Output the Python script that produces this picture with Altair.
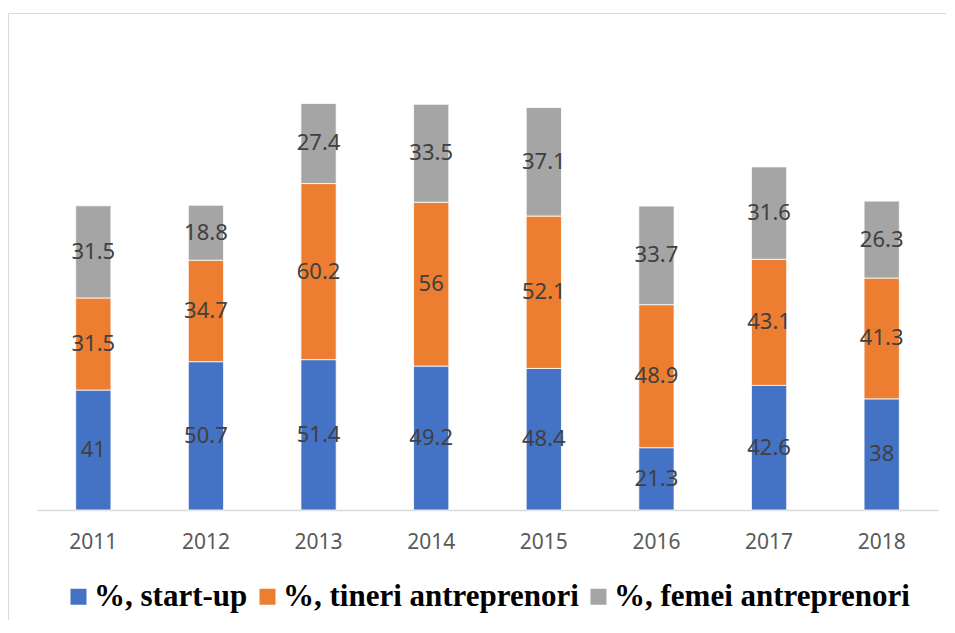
import altair as alt
import pandas as pd

years = ["2011", "2012", "2013", "2014", "2015", "2016", "2017", "2018"]
series = ["%, start-up", "%, tineri antreprenori", "%, femei antreprenori"]
startup = [41, 50.7, 51.4, 49.2, 48.4, 21.3, 42.6, 38]
tineri = [31.5, 34.7, 60.2, 56, 52.1, 48.9, 43.1, 41.3]
femei = [31.5, 18.8, 27.4, 33.5, 37.1, 33.7, 31.6, 26.3]
colors = ["#4472C4", "#ED7D31", "#A5A5A5"]

rows = []
for i, y in enumerate(years):
    for k, (s, vals) in enumerate(zip(series, [startup, tineri, femei])):
        rows.append({"year": y, "series": s, "value": vals[i], "ord": k})
df = pd.DataFrame(rows)

x_enc = alt.X(
    "year:N",
    sort=years,
    scale=alt.Scale(paddingInner=0.687, paddingOuter=0.3435),
    axis=alt.Axis(
        title=None, labelAngle=0, domainColor="#d9d9d9", domainWidth=1.5,
        ticks=False, labelFont="Noto Sans", labelFontSize=21,
        labelColor="#595959", labelPadding=21, grid=False,
    ),
)
y_scale = alt.Scale(domain=[0, 160], nice=False)

bars = alt.Chart(df).mark_bar(stroke="white", strokeWidth=0.8).encode(
    x=x_enc,
    y=alt.Y("value:Q", stack="zero", scale=y_scale, axis=None),
    color=alt.Color(
        "series:N", sort=series,
        scale=alt.Scale(domain=series, range=colors),
        legend=alt.Legend(
            title=None, orient="none", legendX=26, legendY=539,
            direction="horizontal", symbolType="square", symbolSize=256,
            symbolStrokeWidth=0, labelFont="Liberation Serif",
            labelFontWeight="bold", labelFontSize=31, labelColor="black",
            columnPadding=4, labelOffset=0, labelLimit=0,
        ),
    ),
    order=alt.Order("ord:Q"),
)

labels = alt.Chart(df).transform_stack(
    stack="value", groupby=["year"], as_=["v0", "v1"],
    sort=[alt.SortField("ord", order="ascending")],
).transform_calculate(
    mid="(datum.v0 + datum.v1) / 2"
).mark_text(
    font="Noto Sans", fontSize=22, color="#404040", baseline="middle", align="center"
).encode(
    x=alt.X("year:N", sort=years),
    y=alt.Y("mid:Q", scale=y_scale, axis=None),
    text=alt.Text("value:Q", format=".1~f"),
)

one = pd.DataFrame({"a": [0]})
frame_left = alt.Chart(one).mark_rule(color="#d9d9d9", strokeWidth=1).encode(
    x=alt.value(-28.5), y=alt.value(-28.5), y2=alt.value(700)
)
frame_top = alt.Chart(one).mark_rule(color="#d9d9d9", strokeWidth=1).encode(
    y=alt.value(-28.5), x=alt.value(-28.5), x2=alt.value(1000)
)

chart = alt.layer(frame_left, frame_top, bars, labels).properties(
    width=901, height=468,
    autosize=alt.AutoSizeParams(type="none"),
    padding={"left": 29, "top": 34, "right": 8, "bottom": 110},
).configure_view(stroke=None)

chart.save("out.html", embed_options={"renderer": "svg", "actions": False})
